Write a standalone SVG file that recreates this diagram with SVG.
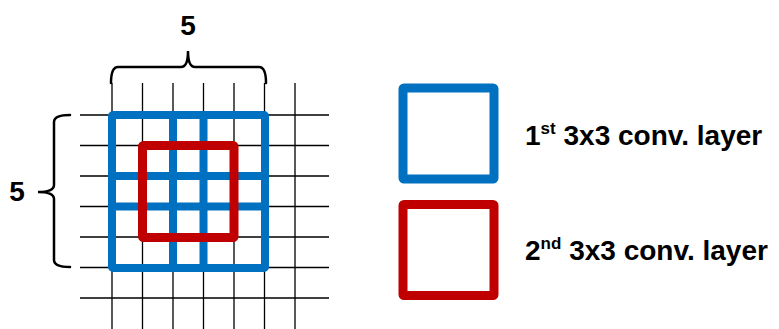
<svg xmlns="http://www.w3.org/2000/svg" width="779" height="329" viewBox="0 0 779 329">
<style>
.grid{stroke:#000;stroke-width:1.3;fill:none}
.blue{stroke:#0070C0;stroke-width:8;fill:none;stroke-linejoin:round}
.red{stroke:#C00000;stroke-width:9;fill:none;stroke-linejoin:round}
.brace{stroke:#000;stroke-width:2.5;fill:none;stroke-linecap:round}
.t{font-family:"Liberation Sans",Arial,sans-serif;font-weight:bold;font-size:28px;fill:#000}
</style>
<rect width="779" height="329" fill="#fff"/>
<g id="grid">
<path class="grid" d="M112,83V329M142.5,83V329M173,83V329M203.5,83V329M234,83V329M264.5,83V329M295,83V329"/>
<path class="grid" d="M80,115H329M80,145.5H329M80,176H329M80,206.5H329M80,237H329M80,267.5H329M80,298H329"/>
</g>
<g id="layer1">
<rect class="blue" x="112" y="115" width="153" height="153" rx="1"/>
<path class="blue" d="M173,115V268M203.5,115V268M112,176H265M112,206.5H265"/>
</g>
<g id="layer2">
<rect class="red" x="142.5" y="145.5" width="91.5" height="92" rx="1"/>
</g>
<g id="brace-top">
<path class="brace" d="M111,83 Q111,67 118,67 L181,67 Q188,67 188,51 Q188,67 195,67 L259,67 Q266,67 266,83"/>
<text class="t" x="188" y="35" text-anchor="middle">5</text>
</g>
<g id="brace-left">
<path class="brace" d="M70,115 Q54,115 54,122 L54,185 Q54,192 38,192 Q54,192 54,199 L54,260 Q54,267 70,267"/>
<text class="t" x="17" y="201" text-anchor="middle">5</text>
</g>
<g id="legend-blue">
<rect class="blue" x="403" y="88" width="91" height="91" rx="1" style="stroke-width:9"/>
<text class="t" x="525" y="145">1<tspan font-size="17" dy="-11">st</tspan><tspan dy="11"> 3x3 conv. layer</tspan></text>
</g>
<g id="legend-red">
<rect class="red" x="403" y="204.5" width="91" height="91" rx="1"/>
<text class="t" x="525" y="260">2<tspan font-size="17" dy="-11">nd</tspan><tspan dy="11"> 3x3 conv. layer</tspan></text>
</g>
</svg>
